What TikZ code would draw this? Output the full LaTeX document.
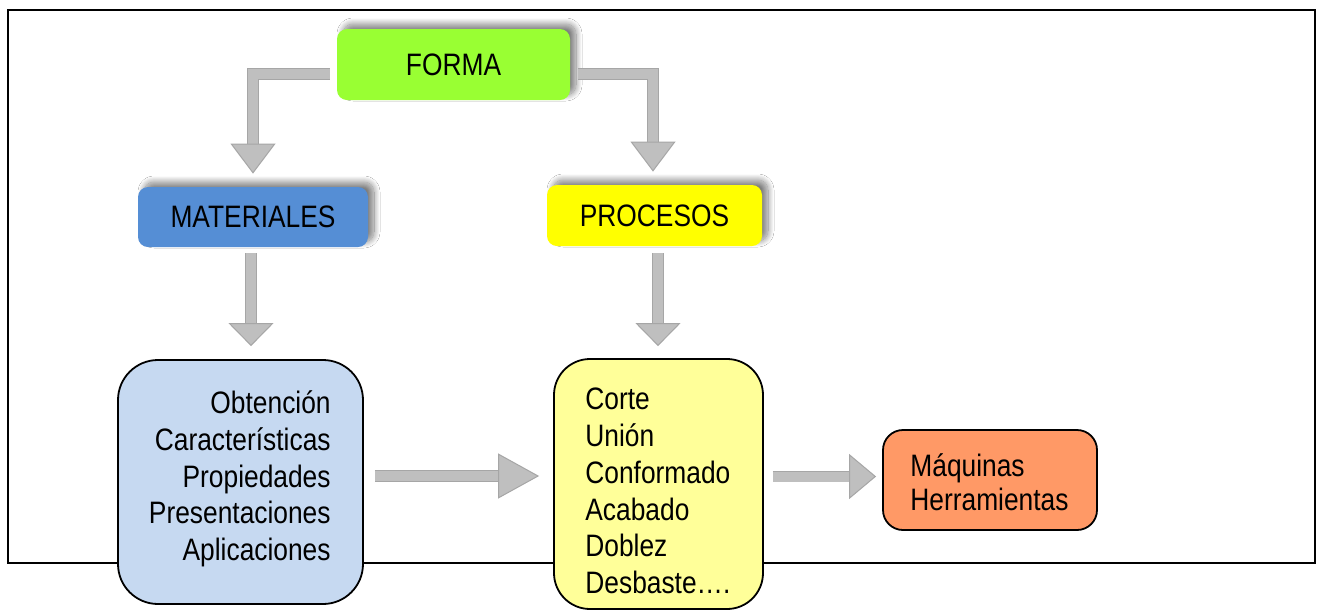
\documentclass[tikz,border=0pt]{standalone}
\usepackage{fontspec}
\setmainfont{Liberation Sans}[FakeStretch=0.85]
\usetikzlibrary{arrows.meta,shadows.blur,calc}
\definecolor{formafill}{HTML}{99FF33}
\definecolor{matfill}{HTML}{558ED5}
\definecolor{procfill}{HTML}{FFFF00}
\definecolor{matlistfill}{HTML}{C6D9F1}
\definecolor{proclistfill}{HTML}{FFFF99}
\definecolor{maqfill}{HTML}{FF9966}
\definecolor{arrfill}{HTML}{BFBFBF}
\definecolor{arredge}{HTML}{A6A6A6}
\newcommand{\blkarrow}[2]{\draw[bedge=#1] #2; \draw[barrow=#1] #2;}
\begin{document}
\begin{tikzpicture}[x=0.5pt,y=-0.5pt,
  txt/.style={font=\fontsize{15.5}{18.35}\selectfont, inner sep=0pt},
  txtb/.style={font=\fontsize{15.5}{16.8}\selectfont, inner sep=0pt},
  headbox/.style={draw=none, rounded corners=5pt, inner sep=0pt,
    font=\fontsize{15.5}{18}\selectfont,
    blur shadow={shadow xshift=3pt, shadow yshift=2.5pt, shadow blur radius=3pt, shadow blur steps=20, shadow opacity=50}},
  listbox/.style={draw=black, line width=0.9pt, inner sep=0pt},
  barrow/.style={draw=arrfill, line width=5pt, line join=miter,
    -{Triangle[length=#1, width=22.5pt, fill=arrfill, color=arredge, line width=0.5pt]}},
  bedge/.style={draw=arredge, line width=5.8pt, line join=miter, shorten >=#1-0.5pt}]
\useasboundingbox (0,0) rectangle (1324,612);
\fill[white] (0,0) rectangle (1324,612);
\draw[line width=1pt] (8,10) rectangle (1315,563);

\node[headbox, fill=formafill, minimum width=116.5pt, minimum height=35.5pt] (forma) at (453.5,64.5) {FORMA};
\node[headbox, fill=matfill, minimum width=115pt, minimum height=30pt] (materiales) at (253,217) {MATERIALES};
\node[headbox, fill=procfill, minimum width=107.5pt, minimum height=30.5pt] (procesos) at (654.5,215.5) {PROCESOS};

\node[listbox, fill=matlistfill, rounded corners=20pt, minimum width=122.5pt, minimum height=122pt] (matlist) at (240.5,482) {};
\node[listbox, fill=proclistfill, rounded corners=18pt, minimum width=104.5pt, minimum height=125pt] (proclist) at (658.5,484) {};
\node[listbox, fill=maqfill, rounded corners=10pt, minimum width=107pt, minimum height=50pt] (maq) at (990,480) {};

\node[txt, anchor=east, align=right] (mattext) at (331,479) {Obtención\\Características\\Propiedades\\Presentaciones\\Aplicaciones};
\node[txt, anchor=west, align=left] (proctext) at (585,491) {Corte\\Unión\\Conformado\\Acabado\\Doblez\\Desbaste….};
\node[txtb, anchor=west, align=left] (maqtext) at (910,482) {Máquinas\\Herramientas};

\blkarrow{15pt}{($(forma.west)+(-7,9.5)$) -| ($(materiales.north)+(0,-13)$)}
\blkarrow{15pt}{($(forma.east)+(8,9.5)$) -| ($(procesos.north)+(-1.5,-13)$)}
\blkarrow{11.5pt}{($(materiales.south)+(-2,6)$) -- ($(matlist.north)+(10.5,-13)$)}
\blkarrow{11.5pt}{($(procesos.south)+(3.5,7)$) -- ($(proclist.north)+(-0.5,-12)$)}
\blkarrow{20.5pt}{($(matlist.east)+(11,-6)$) -- ($(proclist.west)+(-14,-8)$)}
\blkarrow{13.5pt}{($(proclist.east)+(9,-7.5)$) -- ($(maq.west)+(-6,-3.5)$)}
\end{tikzpicture}
\end{document}
